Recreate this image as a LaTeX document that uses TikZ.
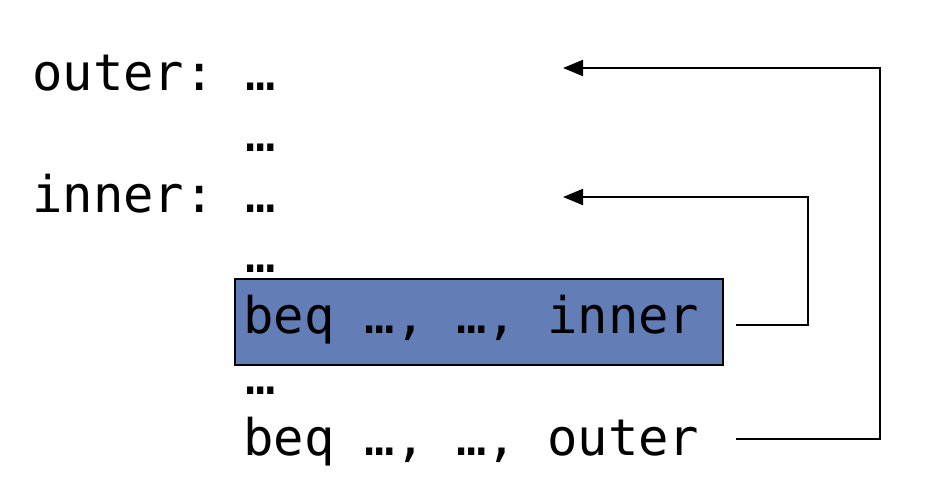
\documentclass[tikz,border=0pt]{standalone}
\usepackage{fontspec}
\newfontfamily\codefont{DejaVu Sans Mono}
\usetikzlibrary{arrows.meta}
\definecolor{boxblue}{RGB}{99,125,182}

\tikzset{
  code/.style={font=\codefont\fontsize{50.5}{60}\selectfont, inner sep=0pt, anchor=base west},
  jump/.style={line width=2pt, -{Triangle[length=20pt,width=16pt]}},
}

\begin{document}
\begin{tikzpicture}[x=1pt,y=-1pt]
  \useasboundingbox (0,0) rectangle (928,490);
  % code lines
  \node[code] (outerlbl) at (32,90) {outer:};
  \node[code] (dots0) at (245,90) {…};
  \node[code] (dots1) at (245,151) {…};
  \node[code] (innerlbl) at (32,212) {inner:};
  \node[code] (dots2) at (245,212) {…};
  \node[code] (dots3) at (245,272) {…};
  \node[draw=black, line width=2pt, fill=boxblue, anchor=north west,
    minimum width=488pt, minimum height=86pt, inner sep=0pt] (innerbox) at (234,278) {};
  \node[code] (beqinner) at (243,333) {beq …, …, inner};
  \node[code] (dots4) at (245,394) {…};
  \node[code] (beqouter) at (243,455) {beq …, …, outer};

  % branch targets
  \coordinate (tgtouter) at (563,68);
  \coordinate (tgtinner) at (563,197);
  \coordinate (srcinner) at (736,325);
  \coordinate (srcouter) at (736,439);

  \draw[jump] (srcinner) -- (808,325) |- (tgtinner);
  \draw[jump] (srcouter) -- (880,439) |- (tgtouter);
\end{tikzpicture}
\end{document}
